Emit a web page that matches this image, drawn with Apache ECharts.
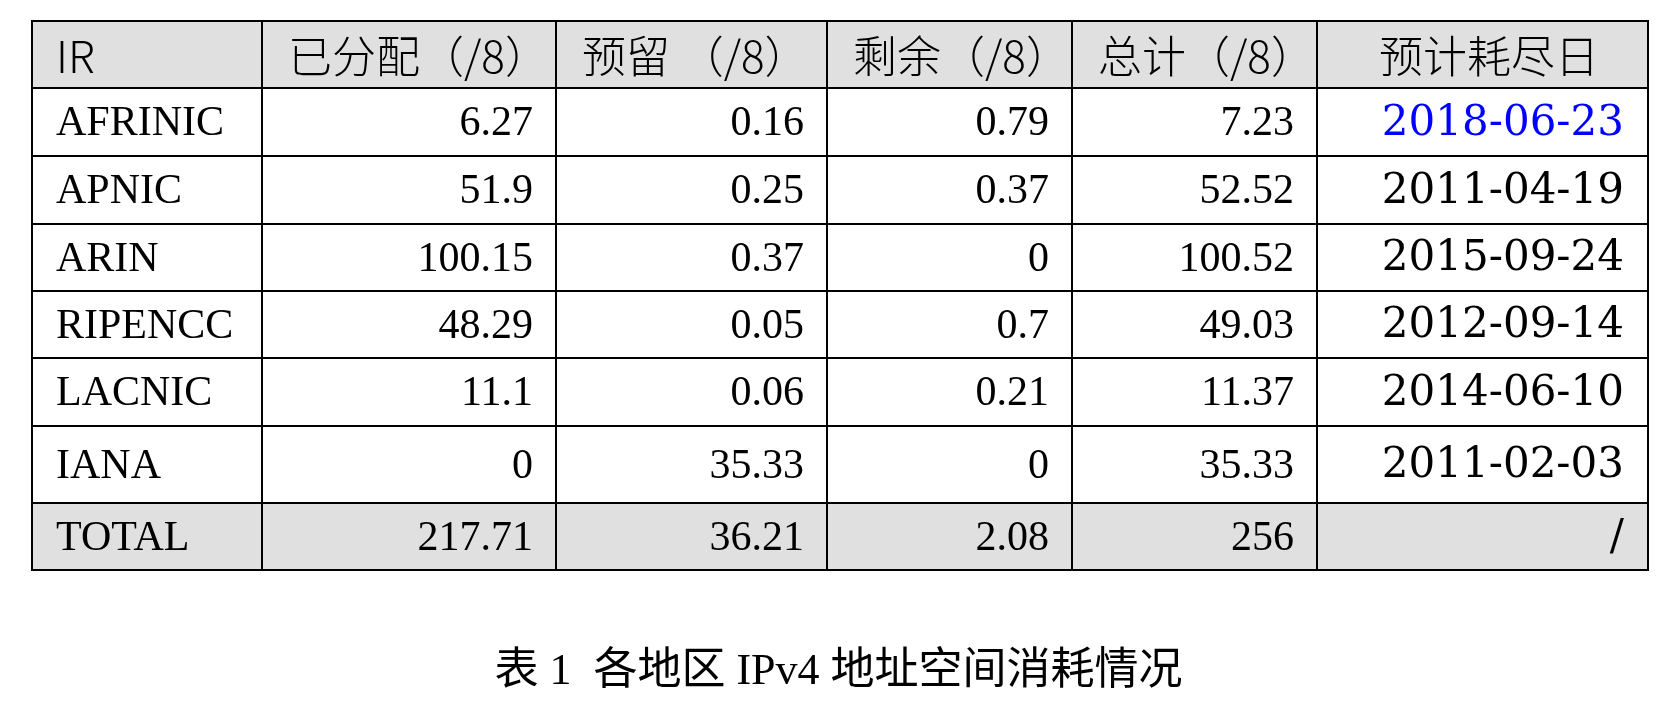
<!DOCTYPE html><html><head><meta charset="utf-8">
<script src="https://cdn.jsdelivr.net/npm/echarts@6/dist/echarts.min.js"></script>
<style>html,body{margin:0;background:#fff}#c{width:1677px;height:716px}</style></head><body><div id="c"></div>
<script>
const headers = ['IR','已分配（/8）','预留 （/8）','剩余（/8）','总计（/8）','预计耗尽日'];
const registries = ['AFRINIC','APNIC','ARIN','RIPENCC','LACNIC','IANA','TOTAL'];
const allocated = ['6.27','51.9','100.15','48.29','11.1','0','217.71'];
const reserved = ['0.16','0.25','0.37','0.05','0.06','35.33','36.21'];
const remaining = ['0.79','0.37','0','0.7','0.21','0','2.08'];
const total = ['7.23','52.52','100.52','49.03','11.37','35.33','256'];
const exhaustion = ['2018-06-23','2011-04-19','2015-09-24','2012-09-14','2014-06-10','2011-02-03','/'];
const caption = '表 1  各地区 IPv4 地址空间消耗情况';

// layout (pixels)
const colEdges = [32,262,556,827,1072,1317,1648];
const rowEdges = [21,88,156,224,291,358,426,503,570];

const cols = [registries, allocated, reserved, remaining, total, exhaustion];
const cells = [];
for (let c = 0; c < 6; c++) cells.push([c, 0, headers[c]]);
for (let r = 0; r < registries.length; r++)
  for (let c = 0; c < 6; c++) cells.push([c, r + 1, cols[c][r]]);

const chart = echarts.init(document.getElementById('c'));
chart.setOption({
  animation:false,
  grid:{left:0,right:0,top:0,bottom:0},
  xAxis:{type:'value',min:0,max:1677,show:false},
  yAxis:{type:'value',min:0,max:716,inverse:true,show:false},
  title:{text:caption,left:'center',top:645,textStyle:{fontFamily:'Liberation Serif, Noto Sans CJK SC',fontWeight:'normal',fontSize:44,color:'#000'}},
  series:[{
    type:'custom',
    data:cells,
    renderItem:function(params, api){
      const c = api.value(0), r = api.value(1), txt = cells[params.dataIndex][2];
      const p0 = api.coord([colEdges[c], rowEdges[r]]);
      const p1 = api.coord([colEdges[c+1], rowEdges[r+1]]);
      const grey = (r === 0 || r === 7);
      const header = r === 0;
      let x, align;
      if (header) { x = c === 5 ? p0[0] + 62 : p0[0] + (c === 0 ? 24 : 26); align = 'left'; }
      else if (c === 0) { x = p0[0] + 24; align = 'left'; }
      else { x = p1[0] - (c === 5 ? 24 : 23); align = 'right'; }
      const isDate = c === 5 && !header;
      return {type:'group',children:[
        {type:'rect',shape:{x:p0[0],y:p0[1],width:p1[0]-p0[0],height:p1[1]-p0[1]},
         style:{fill:grey?'#e0e0e0':'#fff',stroke:'#000',lineWidth:2}},
        {type:'text',style:{text:txt,x:x,y:(p0[1]+p1[1])/2+2,align:align,verticalAlign:'middle',
          fill:(c===5&&r===1)?'#0000ff':'#000',
          font:(header?'300 44px "Noto Sans CJK SC"': isDate ? '42px "DejaVu Serif"' : '42px "Liberation Serif"'),
          letterSpacing: isDate?1:0}}
      ]};
    }
  }]
});
</script></body></html>
